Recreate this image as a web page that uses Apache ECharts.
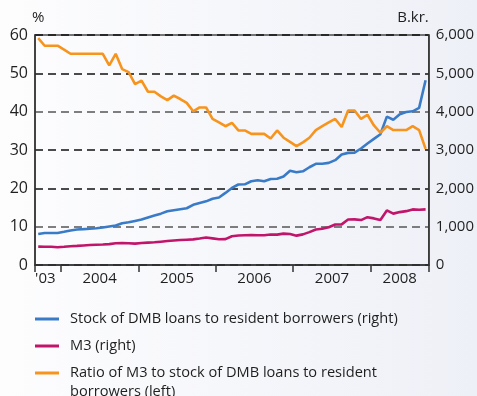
<!DOCTYPE html>
<html>
<head>
<meta charset="utf-8">
<script src="https://cdn.jsdelivr.net/npm/echarts@6/dist/echarts.min.js"></script>
<style>
  html, body { margin: 0; padding: 0; }
  #chart { width: 477px; height: 396px; }
</style>
</head>
<body>
<div id="chart"></div>
<script>
// Monthly observations, September 2003 to September 2008
const startYear = 2003;
const startMonth = 9;

// Stock of DMB loans to resident borrowers, B.kr. (right axis)
const loans = [
  807, 833, 833, 833, 865, 900, 928, 936, 945, 960,
  980, 1005, 1030, 1090, 1115, 1150, 1185, 1240, 1290, 1340,
  1400, 1430, 1455, 1480, 1570, 1615, 1660, 1730, 1760, 1880,
  2010, 2100, 2105, 2185, 2210, 2185, 2245, 2250, 2310, 2460,
  2420, 2445, 2550, 2640, 2640, 2665, 2735, 2880, 2925, 2930,
  3040, 3170, 3290, 3410, 3870, 3790, 3930, 3990, 4010, 4100,
  4820
];

// M3, B.kr. (right axis)
const m3 = [
  479, 478, 475, 465, 475, 488, 498, 510, 520, 528,
  535, 545, 566, 572, 566, 558, 573, 583, 592, 608,
  624, 640, 652, 660, 668, 690, 716, 695, 672, 675,
  750, 770, 777, 780, 775, 778, 795, 792, 818, 808,
  766, 799, 858, 928, 946, 985, 1055, 1060, 1188, 1190,
  1172, 1248, 1216, 1172, 1424, 1340, 1380, 1405, 1450, 1440,
  1450
];

// Ratio of M3 to loans, % (left axis)
const ratio = [
  59.2, 57.2, 57.2, 57.2, 56.2, 55.1, 55.1, 55.1, 55.1, 55.1,
  55.1, 52.1, 55.1, 51.1, 50.3, 47.2, 48.1, 45.2, 45.2, 44.0,
  43.0, 44.2, 43.3, 42.3, 40.1, 41.1, 41.1, 38.1, 37.2, 36.2,
  37.1, 35.1, 35.1, 34.2, 34.2, 34.2, 33.0, 35.1, 33.2, 32.1,
  31.0, 32.0, 33.2, 35.2, 36.2, 37.2, 38.1, 36.0, 40.3, 40.3,
  38.1, 39.2, 36.4, 34.5, 36.2, 35.2, 35.2, 35.2, 36.2, 35.2,
  30.3
];

// Year labels along the time axis
const yearLabels = ["'03", "2004", "2005", "2006", "2007", "2008"];
const leftTicks = [0, 10, 20, 30, 40, 50, 60];
const rightTicks = [0, 1000, 2000, 3000, 4000, 5000, 6000];

const seriesNames = [
  'Stock of DMB loans to resident borrowers (right)',
  'M3 (right)',
  'Ratio of M3 to stock of DMB loans to resident\nborrowers (left)'
];

// Month offset (from the first observation) of each January
const nMonths = loans.length;
const yearStarts = [];
for (let i = 0; i < nMonths; i++) {
  if ((startMonth - 1 + i) % 12 === 0) yearStarts.push(i);
}
// Boundaries of the visible year spans and their centres for labels
const bounds = [0].concat(yearStarts, [nMonths]);
const labelPos = [];
for (let k = 0; k < bounds.length - 1; k++) labelPos.push((bounds[k] + bounds[k + 1]) / 2);
labelPos[0] -= 0.4;

const toPoints = arr => arr.map((v, i) => [i + 0.5, v]);

const font = 'Open Sans';
const textColor = '#1f1f1f';

const legendText = { fontFamily: font, fontSize: 14.6, color: textColor, lineHeight: 19, padding: [0, 0, 0, 6] };

const chart = echarts.init(document.getElementById('chart'), null, { renderer: 'canvas' });

chart.setOption({
  animation: false,
  backgroundColor: {
    type: 'linear', x: 0, y: 0, x2: 1, y2: 0,
    colorStops: [{ offset: 0, color: '#fdfdfe' }, { offset: 1, color: '#eef0f7' }]
  },
  textStyle: { fontFamily: font },
  grid: {
    left: 35, right: 48, top: 35, bottom: 131,
    show: true, borderColor: '#4a4a4a', borderWidth: 1.5,
    backgroundColor: 'transparent'
  },
  legend: [
    {
      orient: 'vertical', left: 35, top: 309.5, padding: 0,
      itemWidth: 24, itemHeight: 3, itemGap: 8, icon: 'rect',
      textStyle: legendText,
      data: [seriesNames[0], seriesNames[1]]
    },
    {
      orient: 'vertical', left: 35, top: 344.5, padding: 0,
      itemWidth: 24, itemHeight: 3, icon: 'rect',
      textStyle: legendText,
      formatter: name => '\n' + name,
      data: [seriesNames[2]]
    }
  ],
  xAxis: {
    type: 'value', min: 0, max: nMonths,
    axisLine: { show: true, lineStyle: { color: '#333', width: 1.5 } },
    axisTick: { show: true, customValues: bounds, length: 7, lineStyle: { color: '#333', width: 1.5 } },
    axisLabel: {
      customValues: labelPos,
      formatter: v => yearLabels[labelPos.indexOf(v)],
      fontSize: 15, color: textColor, margin: 6, fontFamily: font
    },
    splitLine: { show: false }
  },
  yAxis: [
    {
      type: 'value', min: 0, max: 60, interval: 10, position: 'left',
      name: '%', nameLocation: 'end', nameGap: 10,
      nameTextStyle: { fontSize: 15, color: textColor, fontFamily: font, align: 'left', padding: [0, 0, 0, -3] },
      axisLine: { show: true, lineStyle: { color: '#333', width: 1.5 } },
      axisTick: { show: false },
      axisLabel: { fontSize: 16, color: textColor, margin: 7, fontFamily: font,
        formatter: v => String(leftTicks[leftTicks.indexOf(v)]) },
      splitLine: {
        show: true,
        lineStyle: { color: ['#111', '#555', '#111', '#111', '#555', '#111', '#111'], type: [8, 5], width: 1.5 }
      }
    },
    {
      type: 'value', min: 0, max: 6000, interval: 1000, position: 'right',
      name: 'B.kr.', nameLocation: 'end', nameGap: 10,
      nameTextStyle: { fontSize: 15, color: textColor, fontFamily: font, align: 'right', padding: [0, 0, 0, 0] },
      axisLine: { show: true, lineStyle: { color: '#333', width: 1.5 } },
      axisTick: { show: false },
      axisLabel: { fontSize: 15, color: textColor, margin: 7, fontFamily: font,
        formatter: v => rightTicks[rightTicks.indexOf(v)].toLocaleString('en-US') },
      splitLine: { show: false }
    }
  ],
  series: [
    {
      name: seriesNames[0], type: 'line', yAxisIndex: 1, data: toPoints(loans),
      showSymbol: false, color: '#3a7bc8', lineStyle: { width: 2.6 }
    },
    {
      name: seriesNames[1], type: 'line', yAxisIndex: 1, data: toPoints(m3),
      showSymbol: false, color: '#c0156a', lineStyle: { width: 2.6 }
    },
    {
      name: seriesNames[2], type: 'line', yAxisIndex: 0, data: toPoints(ratio),
      showSymbol: false, color: '#f7941d', lineStyle: { width: 2.6 }
    }
  ]
});
</script>
</body>
</html>
